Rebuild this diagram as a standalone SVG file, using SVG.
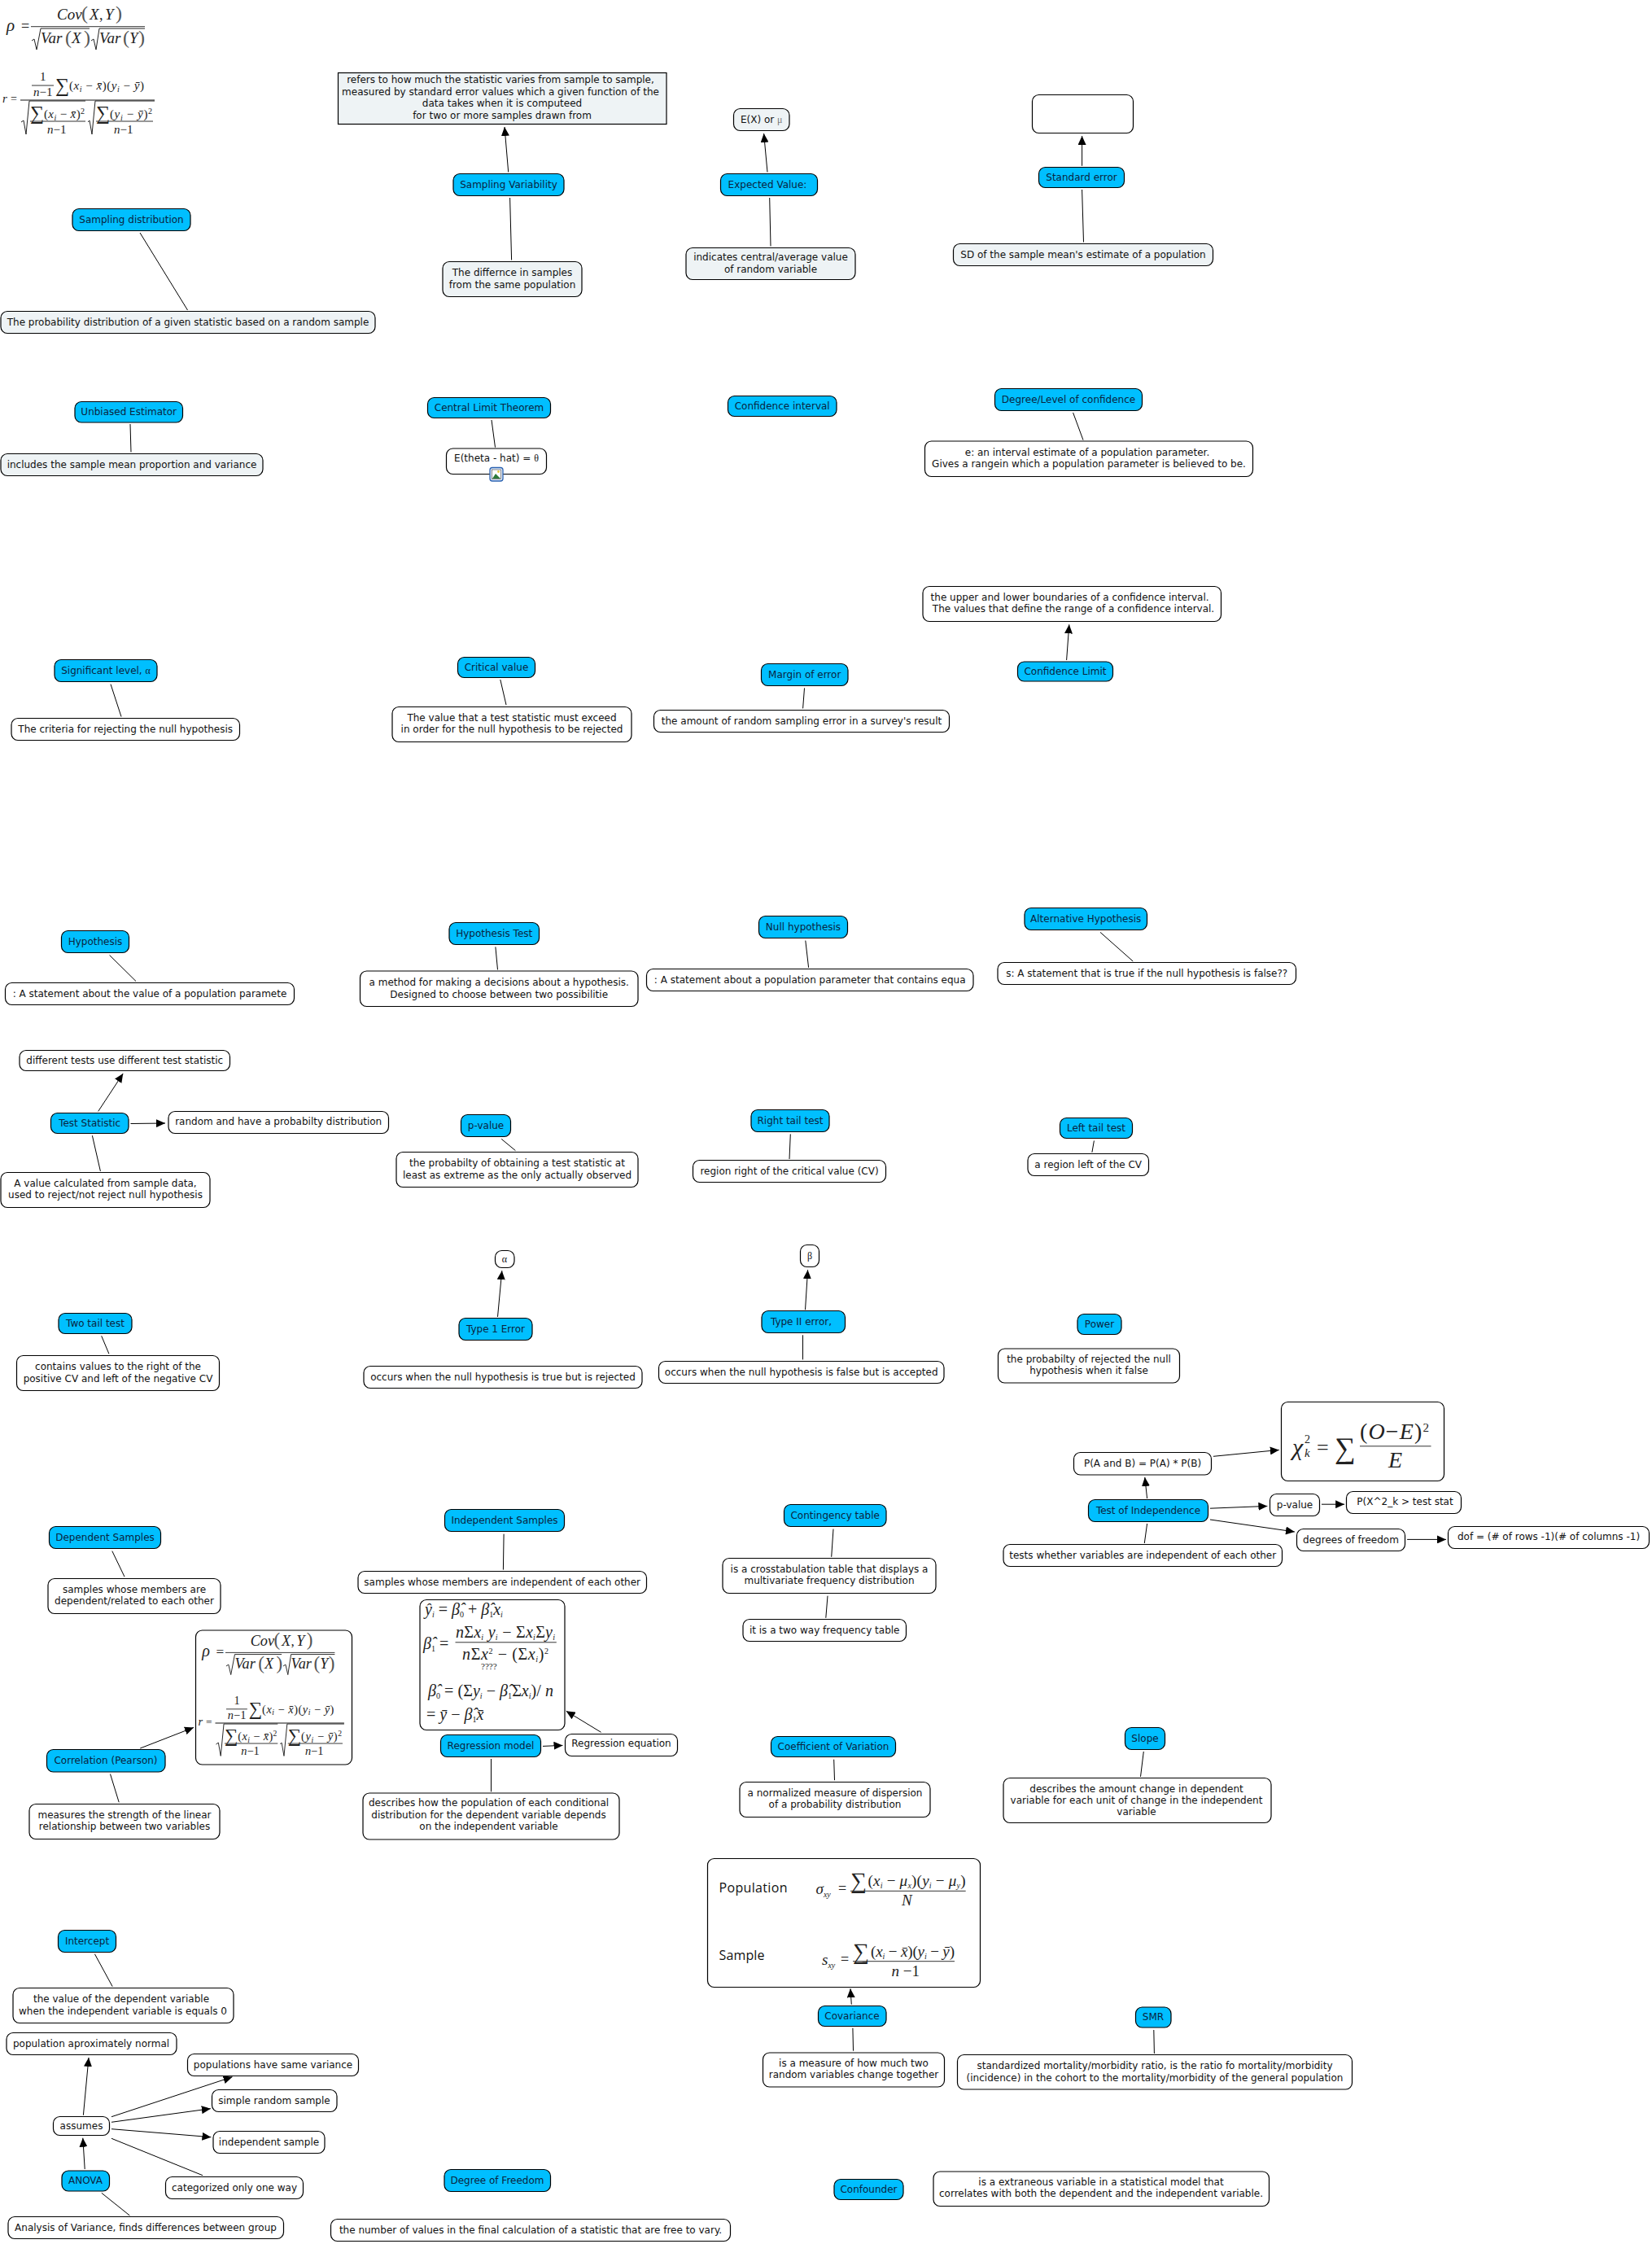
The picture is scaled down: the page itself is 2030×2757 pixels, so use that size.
<svg xmlns="http://www.w3.org/2000/svg" xmlns:xlink="http://www.w3.org/1999/xlink" width="2030" height="2757" viewBox="0 0 2030 2757">
<style>
text{font-family:"DejaVu Sans","Liberation Sans",sans-serif;font-size:12px;fill:#111;text-anchor:middle}
rect.c{fill:#00bfff;stroke:#000;stroke-width:1.2}
rect.w{fill:#fff;stroke:#000;stroke-width:1.2}
rect.l{fill:#eef3f5;stroke:#000;stroke-width:1.2}
.c+text,.c~text{fill:#0a2440}
#connectors line{stroke:#000;stroke-width:1}
#connectors line.a{marker-end:url(#ah)}
text.s,tspan.s{font-family:"Liberation Serif",serif}
.m text{font-family:"Liberation Serif",serif;font-style:italic;text-anchor:start;fill:#222;font-size:16px}
.m text.n,.m tspan.n{font-style:normal}
.m text.p{font-style:normal;fill:#555}
.m tspan.b{font-size:10px}
.m path{fill:none;stroke:#222;stroke-width:1}
.m line{stroke:#333;stroke-width:1}
</style>
<defs>
<marker id="ah" markerUnits="userSpaceOnUse" markerWidth="11" markerHeight="10" refX="11" refY="5" orient="auto"><path d="M0 0L11 5L0 10z" fill="#000"/></marker>
<g id="f-corr" class="m">
<text x="8" y="38" style="font-size:21px">ρ</text><text class="n" x="26" y="38" style="font-size:18px">=</text>
<text x="70" y="24" style="font-size:19px">Cov</text><text class="p" x="100" y="24" style="font-size:24px">(</text><text x="110" y="24" style="font-size:19px">X</text><text class="n" x="122" y="24" style="font-size:18px">,</text><text x="129" y="24" style="font-size:19px">Y</text><text class="p" x="142" y="24" style="font-size:24px">)</text>
<line x1="38" y1="32.7" x2="178" y2="32.7"/>
<path d="M39 50L42 48L45 61L50 35L110 35M112 50L115 48L118 61L122 35L178 35"/>
<text x="50" y="53" style="font-size:19px">Var</text><text class="p" x="80" y="54" style="font-size:24px">(</text><text x="88" y="53" style="font-size:19px">X</text><text class="p" x="103" y="54" style="font-size:24px">)</text>
<text x="122" y="53" style="font-size:19px">Var</text><text class="p" x="151" y="54" style="font-size:24px">(</text><text x="159" y="53" style="font-size:19px">Y</text><text class="p" x="170" y="54" style="font-size:24px">)</text>
<text x="3" y="126" style="font-size:15px">r</text><text class="n" x="13" y="126" style="font-size:14px">=</text>
<text class="n" x="49" y="99" style="font-size:15px">1</text><line x1="39" y1="105" x2="66" y2="105"/>
<text x="41" y="118" style="font-size:15px">n<tspan class="n">−1</tspan></text>
<text class="n" x="68" y="113" style="font-size:24px">∑</text>
<text x="85" y="110" style="font-size:15px" textLength="92"><tspan class="n">(</tspan>x<tspan class="b" dy="3">i</tspan><tspan class="n" dy="-3"> − </tspan>x̄<tspan class="n">)(</tspan>y<tspan class="b" dy="3">i</tspan><tspan class="n" dy="-3"> − </tspan>ȳ<tspan class="n">)</tspan></text>
<line x1="25" y1="123" x2="190" y2="123" style="stroke:#888;stroke-width:2"/>
<path d="M26 150L29 148L32 165L36 124L105 124M108 150L110 148L113 165L117 124L190 124"/>
<text class="n" x="37" y="147" style="font-size:24px">∑</text>
<text x="54" y="145" style="font-size:15px" textLength="50"><tspan class="n">(</tspan>x<tspan class="b" dy="3">i</tspan><tspan class="n" dy="-3"> − </tspan>x̄<tspan class="n">)</tspan><tspan class="n b" dy="-5">2</tspan></text>
<line x1="37" y1="149" x2="105" y2="149"/>
<text x="58" y="164" style="font-size:15px">n<tspan class="n">−1</tspan></text>
<text class="n" x="118" y="147" style="font-size:24px">∑</text>
<text x="135" y="145" style="font-size:15px" textLength="52"><tspan class="n">(</tspan>y<tspan class="b" dy="3">i</tspan><tspan class="n" dy="-3"> − </tspan>ȳ<tspan class="n">)</tspan><tspan class="n b" dy="-5">2</tspan></text>
<line x1="118" y1="149" x2="188" y2="149"/>
<text x="140" y="164" style="font-size:15px">n<tspan class="n">−1</tspan></text>
</g>
</defs>
<rect width="2030" height="2757" fill="#fff"/>
<g id="connectors">
<line class="a" x1="624.7" y1="211.5" x2="620" y2="156"/>
<line x1="626.6" y1="243" x2="628.6" y2="319.5"/>
<line class="a" x1="943" y1="211.5" x2="938.6" y2="164"/>
<line x1="945.7" y1="243" x2="947" y2="302.5"/>
<line class="a" x1="1329.6" y1="203.8" x2="1329.6" y2="167"/>
<line x1="1329.6" y1="233" x2="1331.5" y2="297.5"/>
<line x1="172" y1="286" x2="230.5" y2="381"/>
<line x1="160" y1="521" x2="161" y2="555.5"/>
<line x1="604" y1="516" x2="608.5" y2="549.6"/>
<line x1="1318.6" y1="507" x2="1331" y2="540.6"/>
<line x1="136" y1="840.6" x2="149" y2="880.5"/>
<line x1="614.8" y1="835" x2="622" y2="866"/>
<line x1="988.5" y1="845.4" x2="986.6" y2="870.4"/>
<line class="a" x1="1310.6" y1="811" x2="1313.8" y2="767.3"/>
<line x1="134.6" y1="1173.5" x2="167.1" y2="1205.6"/>
<line x1="608.9" y1="1163.4" x2="611.5" y2="1191.4"/>
<line x1="989.8" y1="1155.6" x2="993.6" y2="1188.8"/>
<line x1="1352" y1="1145.4" x2="1392.2" y2="1181"/>
<line class="a" x1="120.7" y1="1365.4" x2="151.2" y2="1319"/>
<line class="a" x1="160.5" y1="1380.5" x2="203" y2="1380"/>
<line x1="113.4" y1="1395.2" x2="123.4" y2="1438.9"/>
<line x1="616.2" y1="1399.4" x2="633.4" y2="1413.6"/>
<line x1="971.3" y1="1393.4" x2="970" y2="1424"/>
<line x1="1344.4" y1="1401.5" x2="1341.9" y2="1415.8"/>
<line x1="124.7" y1="1641.3" x2="133.9" y2="1663.3"/>
<line class="a" x1="611.5" y1="1617.9" x2="616.8" y2="1561.2"/>
<line class="a" x1="989.5" y1="1609.2" x2="992.6" y2="1560.2"/>
<line x1="986.5" y1="1640.3" x2="986.5" y2="1670.4"/>
<line x1="137.8" y1="1905.6" x2="153" y2="1937.2"/>
<line x1="619.1" y1="1884.7" x2="618.4" y2="1928.6"/>
<line x1="1024" y1="1878.6" x2="1021.7" y2="1912.8"/>
<line x1="1017" y1="1960.7" x2="1014.8" y2="1987.8"/>
<line class="a" x1="1491" y1="1789.3" x2="1571.8" y2="1781.4"/>
<line class="a" x1="1409.6" y1="1841" x2="1406.8" y2="1815"/>
<line class="a" x1="1487" y1="1853.2" x2="1557.4" y2="1850.4"/>
<line class="a" x1="1624" y1="1848.2" x2="1652.1" y2="1848.2"/>
<line class="a" x1="1487" y1="1867" x2="1590.9" y2="1882"/>
<line class="a" x1="1729.1" y1="1891.4" x2="1777" y2="1891.4"/>
<line x1="1409.6" y1="1872" x2="1406.3" y2="1896"/>
<line class="a" x1="172.2" y1="2148" x2="238" y2="2122.4"/>
<line x1="135.5" y1="2179.6" x2="146.2" y2="2214.3"/>
<line class="a" x1="667" y1="2145.4" x2="691.5" y2="2144.4"/>
<line class="a" x1="738.6" y1="2128.3" x2="695.7" y2="2102.2"/>
<line x1="603.5" y1="2161" x2="603.5" y2="2201.3"/>
<line x1="1024.7" y1="2161.7" x2="1025.5" y2="2187.2"/>
<line x1="1405.3" y1="2152" x2="1401.5" y2="2182.9"/>
<line class="a" x1="1046.3" y1="2462.7" x2="1045" y2="2443.3"/>
<line x1="1047.9" y1="2491.7" x2="1048.5" y2="2519.7"/>
<line x1="1417.8" y1="2494" x2="1418.4" y2="2523"/>
<line x1="116.4" y1="2400.7" x2="138.2" y2="2440.7"/>
<line class="a" x1="102.4" y1="2598.7" x2="109" y2="2528"/>
<line class="a" x1="137" y1="2600.7" x2="285.5" y2="2551.7"/>
<line class="a" x1="137" y1="2607.3" x2="258.8" y2="2590.7"/>
<line class="a" x1="137" y1="2615.7" x2="259.4" y2="2625.7"/>
<line x1="137" y1="2627.3" x2="249" y2="2672.7"/>
<line class="a" x1="104.2" y1="2665" x2="101.8" y2="2626.7"/>
<line x1="124.8" y1="2694.3" x2="159.4" y2="2722"/>
</g>
<g id="formula-corr"><use href="#f-corr" xlink:href="#f-corr"/></g>
<g id="n-refers"><rect class="l" x="415.5" y="89.5" width="403.5" height="63"/><text x="615" y="102">refers to how much the statistic varies from sample to sample,</text><text x="615" y="116.7">measured by standard error values which a given function of the</text><text x="617" y="131.3">data takes when it is computeed</text><text x="617" y="146">for two or more samples drawn from</text></g>
<g id="n-sampling-variability"><rect class="c" rx="8" x="557" y="213.5" width="136" height="27"/><text x="625" y="230.5">Sampling Variability</text></g>
<g id="n-differnce"><rect class="l" rx="8" x="544" y="321.5" width="171" height="43"/><text x="629.5" y="339.2">The differnce in samples</text><text x="629.5" y="353.8">from the same population</text></g>
<g id="n-expected-value"><rect class="c" rx="8" x="885.5" y="213.5" width="119" height="27"/><text x="943" y="230.5">Expected Value:</text></g>
<g id="n-ex"><rect class="l" rx="8" x="901.5" y="133.5" width="68.5" height="27"/><text x="935.7" y="150.5">E(X) or <tspan class="s" fill="#777">μ</tspan></text></g>
<g id="n-indicates"><rect class="l" rx="8" x="843" y="304.5" width="208" height="39"/><text x="947" y="320.2">indicates central/average value</text><text x="947" y="334.8">of random variable</text></g>
<g id="n-standard-error"><rect class="c" rx="8" x="1276.5" y="205.5" width="105" height="25"/><text x="1329" y="221.5">Standard error</text></g>
<g id="n-empty"><rect class="w" rx="8" x="1268.5" y="116.5" width="124" height="47"/></g>
<g id="n-sd"><rect class="l" rx="8" x="1171.5" y="299.5" width="319" height="27"/><text x="1331" y="316.5">SD of the sample mean's estimate of a population</text></g>
<g id="n-sampling-distribution"><rect class="c" rx="8" x="89" y="256.5" width="145" height="27"/><text x="161.5" y="273.5">Sampling distribution</text></g>
<g id="n-probability"><rect class="l" rx="8" x="1" y="382.5" width="460" height="27"/><text x="231" y="399.5">The probability distribution of a given statistic based on a random sample</text></g>
<g id="n-unbiased"><rect class="c" rx="8" x="92" y="493.5" width="132.5" height="25.5"/><text x="158.2" y="509.5">Unbiased Estimator</text></g>
<g id="n-includes"><rect class="l" rx="8" x="1" y="557.5" width="322" height="27"/><text x="162" y="574.5">includes the sample mean proportion and variance</text></g>
<g id="n-clt"><rect class="c" rx="8" x="525.5" y="488.5" width="151" height="25"/><text x="601" y="504.5">Central Limit Theorem</text></g>
<g id="n-theta"><rect class="w" rx="8" x="548.5" y="551" width="123" height="31.5"/><text x="610" y="567">E(theta - hat) = <tspan class="s">θ</tspan></text>
<rect x="602" y="574.5" width="16" height="16.5" rx="3" fill="#dfeafa" stroke="#2b62b0" stroke-width="1.3"/><rect x="604.5" y="577" width="11" height="11.5" fill="#fff" stroke="#444" stroke-width=".6"/><path d="M605 588L609 582L615 588z" fill="#2f7a3a"/><circle cx="612.5" cy="579.5" r="1.4" fill="#e8c840"/></g>
<g id="n-confidence-interval"><rect class="c" rx="8" x="894.5" y="486.5" width="133.5" height="25"/><text x="961.2" y="502.5">Confidence interval</text></g>
<g id="n-degree-confidence"><rect class="c" rx="8" x="1222.5" y="477.5" width="181" height="27"/><text x="1313" y="494.5">Degree/Level of confidence</text></g>
<g id="n-e"><rect class="w" rx="8" x="1136.5" y="542" width="403" height="43.5"/><text x="1336" y="559.5">e: an interval estimate of a population parameter.</text><text x="1338" y="574.2">Gives a rangein which a population parameter is believed to be.</text></g>
<g id="n-significant"><rect class="c" rx="8" x="67" y="810.5" width="126" height="27"/><text x="130" y="827.5">Significant level, <tspan class="s">α</tspan></text></g>
<g id="n-criteria"><rect class="w" rx="8" x="14" y="882.5" width="280.5" height="27"/><text x="154.2" y="899.5">The criteria for rejecting the null hypothesis</text></g>
<g id="n-critical"><rect class="c" rx="8" x="562.5" y="807.5" width="95" height="25"/><text x="610" y="823.5">Critical value</text></g>
<g id="n-value"><rect class="w" rx="8" x="482" y="868.5" width="294" height="43"/><text x="629" y="885.8">The value that a test statistic must exceed</text><text x="629" y="900.4">in order for the null hypothesis to be rejected</text></g>
<g id="n-margin"><rect class="c" rx="8" x="935.5" y="815.5" width="106.5" height="27"/><text x="988.7" y="832.5">Margin of error</text></g>
<g id="n-amount"><rect class="w" rx="8" x="803.5" y="872.5" width="363" height="27"/><text x="985" y="889.5">the amount of random sampling error in a survey's result</text></g>
<g id="n-upper"><rect class="w" rx="8" x="1134" y="720.5" width="366.5" height="43"/><text x="1314.6" y="737.5">the upper and lower boundaries of a confidence interval.</text><text x="1319" y="752.3">The values that define the range of a confidence interval.</text></g>
<g id="n-confidence-limit"><rect class="c" rx="8" x="1250.5" y="813" width="117" height="24"/><text x="1309" y="828.5">Confidence Limit</text></g>
<g id="n-hypothesis"><rect class="c" rx="8" x="75.5" y="1143.5" width="83" height="27"/><text x="117" y="1160.5">Hypothesis</text></g>
<g id="n-statement"><rect class="w" rx="8" x="6.5" y="1207.5" width="355" height="27"/><text x="184" y="1224.5">: A statement about the value of a population paramete</text></g>
<g id="n-hypothesis-test"><rect class="c" rx="8" x="552" y="1133.5" width="110.5" height="27"/><text x="607.2" y="1150.5">Hypothesis Test</text></g>
<g id="n-method"><rect class="w" rx="8" x="442.5" y="1193" width="341.5" height="43.5"/><text x="613.2" y="1211">a method for making a decisions about a hypothesis.</text><text x="613.2" y="1225.7">Designed to choose between two possibilitie</text></g>
<g id="n-null"><rect class="c" rx="8" x="932.5" y="1125.5" width="109" height="27"/><text x="987" y="1142.5">Null hypothesis</text></g>
<g id="n-null-text"><rect class="w" rx="8" x="794.5" y="1190.5" width="401.5" height="27"/><text x="995.2" y="1207.5">: A statement about a population parameter that contains equa</text></g>
<g id="n-alt"><rect class="c" rx="8" x="1259" y="1115.5" width="150.5" height="27"/><text x="1334.2" y="1132.5">Alternative Hypothesis</text></g>
<g id="n-alt-text"><rect class="w" rx="8" x="1226" y="1182.5" width="366.5" height="27"/><text x="1409.2" y="1199.5">s: A statement that is true if the null hypothesis is false??</text></g>
<g id="n-different"><rect class="w" rx="8" x="24" y="1290.5" width="258.5" height="25"/><text x="153.2" y="1306.5">different tests use different test statistic</text></g>
<g id="n-test-statistic"><rect class="c" rx="8" x="62.5" y="1367.5" width="95.5" height="25"/><text x="110.2" y="1383.5">Test Statistic</text></g>
<g id="n-random"><rect class="w" rx="8" x="207" y="1365.5" width="270.5" height="27"/><text x="342.2" y="1381.5">random and have a probabilty distribution</text></g>
<g id="n-avalue"><rect class="w" rx="8" x="1" y="1440.5" width="257" height="43"/><text x="129.5" y="1457.5">A value calculated from sample data,</text><text x="129.5" y="1472">used to reject/not reject null hypothesis</text></g>
<g id="n-pvalue"><rect class="c" rx="8" x="566.5" y="1369.5" width="61" height="27"/><text x="597" y="1386.5">p-value</text></g>
<g id="n-probabilty"><rect class="w" rx="8" x="487" y="1415.5" width="297" height="43"/><text x="635.5" y="1432.8">the probabilty of obtaining a test statistic at</text><text x="635.5" y="1447.5">least as extreme as the only actually observed</text></g>
<g id="n-right-tail"><rect class="c" rx="8" x="923" y="1363.5" width="96" height="27"/><text x="971" y="1380.5">Right tail test</text></g>
<g id="n-region"><rect class="w" rx="8" x="851.5" y="1425.5" width="237" height="27"/><text x="970" y="1442.5">region right of the critical value (CV)</text></g>
<g id="n-left-tail"><rect class="c" rx="8" x="1302.5" y="1373.5" width="89" height="25"/><text x="1347" y="1389.5">Left tail test</text></g>
<g id="n-left-region"><rect class="w" rx="8" x="1263" y="1417.5" width="148.5" height="27"/><text x="1337.2" y="1434.5">a region left of the CV</text></g>
<g id="n-two-tail"><rect class="c" rx="8" x="72" y="1613.5" width="90" height="25"/><text x="117" y="1629.5">Two tail test</text></g>
<g id="n-contains"><rect class="w" rx="8" x="20.5" y="1665.5" width="249" height="43"/><text x="145" y="1683.2">contains values to the right of the</text><text x="145" y="1697.8">positive CV and left of the negative CV</text></g>
<g id="n-alpha"><rect class="w" rx="8" x="608.5" y="1536.5" width="23.5" height="21"/><text class="s" x="620" y="1550.5">α</text></g>
<g id="n-type1"><rect class="c" rx="8" x="564" y="1619.5" width="90" height="27"/><text x="609" y="1636.5">Type 1 Error</text></g>
<g id="n-type1-text"><rect class="w" rx="8" x="447" y="1678.5" width="342" height="27"/><text x="618" y="1695.5">occurs when the null hypothesis is true but is rejected</text></g>
<g id="n-beta"><rect class="w" rx="8" x="983.5" y="1529.5" width="23" height="27"/><text class="s" x="995" y="1546.5">β</text></g>
<g id="n-type2"><rect class="c" rx="8" x="936" y="1610.5" width="102.5" height="27"/><text x="984.5" y="1627.5">Type II error,</text></g>
<g id="n-type2-text"><rect class="w" rx="8" x="809.5" y="1672.5" width="350.5" height="27"/><text x="984.7" y="1689.5">occurs when the null hypothesis is false but is accepted</text></g>
<g id="n-power"><rect class="c" rx="8" x="1324" y="1614.5" width="54" height="25"/><text x="1351" y="1630.5">Power</text></g>
<g id="n-power-text"><rect class="w" rx="8" x="1226.5" y="1657" width="223" height="42"/><text x="1338" y="1674">the probabilty of rejected the null</text><text x="1338" y="1688.4">hypothesis when it false</text></g>
<g id="n-dependent"><rect class="c" rx="8" x="60.5" y="1875.5" width="137" height="27"/><text x="129" y="1892.5">Dependent Samples</text></g>
<g id="n-dependent-text"><rect class="w" rx="8" x="59" y="1939.5" width="212" height="43"/><text x="165" y="1957">samples whose members are</text><text x="165" y="1971.3">dependent/related to each other</text></g>
<g id="n-independent"><rect class="c" rx="8" x="546.5" y="1854.5" width="147" height="27"/><text x="620" y="1871.5">Independent Samples</text></g>
<g id="n-independent-text"><rect class="w" rx="8" x="440" y="1930.5" width="354.5" height="27"/><text x="617.2" y="1947.5">samples whose members are independent of each other</text></g>
<g id="n-contingency"><rect class="c" rx="8" x="963.5" y="1848.5" width="125.5" height="27"/><text x="1026.2" y="1865.5">Contingency table</text></g>
<g id="n-crosstab"><rect class="w" rx="8" x="888" y="1914.5" width="262" height="43"/><text x="1019" y="1932">is a crosstabulation table that displays a</text><text x="1019" y="1946.3">multivariate frequency distribution</text></g>
<g id="n-two-way"><rect class="w" rx="8" x="913" y="1989.5" width="200.5" height="27"/><text x="1013.2" y="2006.5">it is a two way frequency table</text></g>
<g id="n-test-independence"><rect class="c" rx="8" x="1337.5" y="1842.5" width="147" height="27"/><text x="1411" y="1859.5">Test of Independence</text></g>
<g id="n-pab"><rect class="w" rx="8" x="1319.5" y="1784.5" width="169" height="27.5"/><text x="1404" y="1801.5">P(A and B) = P(A) * P(B)</text></g>
<g id="n-tests"><rect class="w" rx="8" x="1233" y="1897.5" width="342.5" height="27"/><text x="1404.2" y="1914.5">tests whether variables are independent of each other</text></g>
<g id="n-pvalue2"><rect class="w" rx="8" x="1560.5" y="1835.5" width="61" height="27"/><text x="1591" y="1852.5">p-value</text></g>
<g id="n-px"><rect class="w" rx="8" x="1654.5" y="1832.5" width="141" height="27"/><text x="1726.5" y="1848.5">P(X^2_k &gt; test stat</text></g>
<g id="n-degrees"><rect class="w" rx="8" x="1593.5" y="1878.5" width="133" height="27"/><text x="1660" y="1895.5">degrees of freedom</text></g>
<g id="n-dof"><rect class="w" rx="8" x="1779.5" y="1875.5" width="247" height="27"/><text x="1903" y="1892">dof = (# of rows -1)(# of columns -1)</text></g>
<g id="n-chi"><rect class="w" rx="8" x="1574.5" y="1722.5" width="200" height="97"/>
<g class="m"><text x="1588" y="1787.5" style="font-size:30px">χ</text><text class="n" x="1603" y="1773" style="font-size:14px">2</text><text x="1603" y="1790" style="font-size:15px">k</text><text class="n" x="1618" y="1787" style="font-size:26px">=</text><text class="n" x="1640" y="1791" style="font-size:36px">∑</text><text x="1671" y="1768" style="font-size:28px" textLength="85"><tspan class="n">(</tspan>O<tspan class="n">−</tspan>E<tspan class="n">)</tspan><tspan class="n" dy="-9" style="font-size:15px">2</tspan></text><line x1="1671" y1="1776.8" x2="1758.5" y2="1776.8"/><text x="1706" y="1803" style="font-size:28px">E</text></g></g>
<g id="n-correlation"><rect class="c" rx="8" x="57.5" y="2149.5" width="145.5" height="27.5"/><text x="130" y="2166.5">Correlation (Pearson)</text></g>
<g id="n-correlation-formula"><rect class="w" rx="8" x="240.5" y="2003" width="192" height="165"/><use href="#f-corr" xlink:href="#f-corr" transform="translate(240.5 1999) scale(.96)"/></g>
<g id="n-measures"><rect class="w" rx="8" x="36" y="2216.5" width="234" height="43"/><text x="153" y="2234">measures the strength of the linear</text><text x="153" y="2248.4">relationship  between two variables</text></g>
<g id="n-regression-formula"><rect class="w" rx="8" x="516" y="1965.5" width="178" height="160"/>
<g class="m">
<text x="522" y="1984.4" style="font-size:20px">ŷ<tspan class="b" dy="3">i</tspan><tspan class="n" dy="-3"> = </tspan>β̂<tspan class="n b" dy="3">0</tspan><tspan class="n" dy="-3"> + </tspan>β̂<tspan class="n b" dy="3">1</tspan><tspan dy="-3">x</tspan><tspan class="b" dy="3">i</tspan></text>
<text x="520" y="2025.5" style="font-size:20px">β̂<tspan class="n b" dy="3">1</tspan><tspan class="n" dy="-3"> =</tspan></text>
<text x="560" y="2012" style="font-size:20px" textLength="122">n<tspan class="n">Σ</tspan>x<tspan class="b" dy="3">i</tspan><tspan dy="-3"> y</tspan><tspan class="b" dy="3">i</tspan><tspan class="n" dy="-3"> − Σ</tspan>x<tspan class="b" dy="3">i</tspan><tspan class="n" dy="-3">Σ</tspan>y<tspan class="b" dy="3">i</tspan></text>
<line x1="559.5" y1="2017.8" x2="683.8" y2="2017.8"/>
<text x="568" y="2039" style="font-size:20px" textLength="106">n<tspan class="n">Σ</tspan>x<tspan class="n b" dy="-7">2</tspan><tspan class="n" dy="7"> − (Σ</tspan>x<tspan class="b" dy="3">i</tspan><tspan class="n" dy="-3">)</tspan><tspan class="n b" dy="-7">2</tspan></text>
<text class="n" x="591" y="2050.6" style="font-size:11px">????</text>
<text x="526" y="2084" style="font-size:20px" textLength="154">β̂<tspan class="n b" dy="3">0</tspan><tspan class="n" dy="-3"> = (Σ</tspan>y<tspan class="b" dy="3">i</tspan><tspan class="n" dy="-3"> − </tspan>β̂<tspan class="n b" dy="3">1</tspan><tspan class="n" dy="-3">Σ</tspan>x<tspan class="b" dy="3">i</tspan><tspan class="n" dy="-3">)/ </tspan>n</text>
<text x="524" y="2112.6" style="font-size:20px"><tspan class="n">= </tspan>ȳ<tspan class="n"> − </tspan>β̂<tspan class="n b" dy="3">1</tspan><tspan dy="-3">x̄</tspan></text>
</g></g>
<g id="n-regression"><rect class="c" rx="8" x="541.5" y="2131.5" width="123" height="27"/><text x="603" y="2148.5">Regression model</text></g>
<g id="n-regression-eq"><rect class="w" rx="8" x="694.5" y="2130.5" width="138" height="27"/><text x="763.5" y="2145.5">Regression equation</text></g>
<g id="n-describes"><rect class="w" rx="8" x="446" y="2203" width="315" height="57"/><text x="600.5" y="2218.8">describes how the population of each conditional</text><text x="600.5" y="2233.5">distribution for the dependent variable depends</text><text x="600.5" y="2248">on the independent variable</text></g>
<g id="n-coefficient"><rect class="c" rx="8" x="947.5" y="2133.5" width="153" height="25"/><text x="1024" y="2149.5">Coefficient of Variation</text></g>
<g id="n-normalized"><rect class="w" rx="8" x="909" y="2189.5" width="234" height="43"/><text x="1026" y="2206.6">a normalized measure of dispersion</text><text x="1026" y="2221.3">of a probability distribution</text></g>
<g id="n-slope"><rect class="c" rx="8" x="1382.5" y="2122.5" width="49" height="27"/><text x="1407" y="2139.5">Slope</text></g>
<g id="n-slope-text"><rect class="w" rx="8" x="1233" y="2184.5" width="329" height="55"/><text x="1396.5" y="2201.5">describes the amount change in dependent</text><text x="1396.5" y="2216">variable for each unit of change in the independent</text><text x="1396.5" y="2230.3">variable</text></g>
<g id="n-covariance-formula"><rect class="w" rx="8" x="869.5" y="2283.5" width="335" height="158"/>
<text x="883.5" y="2325" textLength="84" style="font-family:'Open Sans',sans-serif;font-size:16px;text-anchor:start">Population</text>
<text x="883.5" y="2408.3" textLength="56" style="font-family:'Open Sans',sans-serif;font-size:16px;text-anchor:start">Sample</text>
<g class="m">
<text x="1002.5" y="2326.7" style="font-size:19px">σ<tspan class="b" dy="4">xy</tspan></text><text class="n" x="1030" y="2326" style="font-size:18px">=</text>
<text class="n" x="1045" y="2320" style="font-size:28px">∑</text>
<text x="1066.5" y="2317" style="font-size:19px" textLength="120"><tspan class="n">(</tspan>x<tspan class="b" dy="3">i</tspan><tspan class="n" dy="-3"> − </tspan>μ<tspan class="b" dy="3">x</tspan><tspan class="n" dy="-3">)(</tspan>y<tspan class="b" dy="3">i</tspan><tspan class="n" dy="-3"> − </tspan>μ<tspan class="b" dy="3">y</tspan><tspan class="n" dy="-3">)</tspan></text>
<line x1="1045" y1="2323.3" x2="1186.7" y2="2323.3"/>
<text x="1108" y="2341" style="font-size:19px">N</text>
<text x="1010" y="2414" style="font-size:19px">s<tspan class="b" dy="4">xy</tspan></text><text class="n" x="1033" y="2413" style="font-size:18px">=</text>
<text class="n" x="1048" y="2407" style="font-size:28px">∑</text>
<text x="1070" y="2404" style="font-size:19px" textLength="103"><tspan class="n">(</tspan>x<tspan class="b" dy="3">i</tspan><tspan class="n" dy="-3"> − </tspan>x̄<tspan class="n">)(</tspan>y<tspan class="b" dy="3">i</tspan><tspan class="n" dy="-3"> − </tspan>ȳ<tspan class="n">)</tspan></text>
<line x1="1048" y1="2409.7" x2="1173" y2="2409.7"/>
<text x="1095.5" y="2428" style="font-size:19px">n<tspan class="n"> −1</tspan></text>
</g></g>
<g id="n-covariance"><rect class="c" rx="8" x="1005.5" y="2464.5" width="83.5" height="25"/><text x="1047" y="2480.5">Covariance</text></g>
<g id="n-covariance-text"><rect class="w" rx="8" x="937.5" y="2522" width="223" height="42"/><text x="1049" y="2539">is a measure of how much two</text><text x="1049" y="2553.4">random variables change together</text></g>
<g id="n-smr"><rect class="c" rx="8" x="1395.5" y="2466" width="43.5" height="25"/><text x="1417" y="2482">SMR</text></g>
<g id="n-smr-text"><rect class="w" rx="8" x="1176.5" y="2524.5" width="485" height="42.5"/><text x="1419" y="2542">standardized mortality/morbidity ratio, is the ratio fo mortality/morbidity</text><text x="1419" y="2556.6">(incidence) in the cohort to the mortality/morbidity of the general population</text></g>
<g id="n-confounder"><rect class="c" rx="8" x="1025" y="2677.5" width="85" height="25"/><text x="1067.5" y="2693.5">Confounder</text></g>
<g id="n-confounder-text"><rect class="w" rx="8" x="1147" y="2668" width="412.5" height="42.5"/><text x="1353" y="2685">is a extraneous variable in a statistical model that</text><text x="1353" y="2699.3">correlates with both the dependent and the independent variable.</text></g>
<g id="n-intercept"><rect class="c" rx="8" x="71.5" y="2371.5" width="71" height="27"/><text x="107" y="2388.5">Intercept</text></g>
<g id="n-intercept-text"><rect class="w" rx="8" x="16" y="2442.5" width="271" height="43"/><text x="149" y="2460">the value of the dependent variable</text><text x="151" y="2474.6">when the independent variable is equals 0</text></g>
<g id="n-pop-normal"><rect class="w" rx="8" x="8" y="2497.5" width="209" height="27"/><text x="112" y="2514.5">population aproximately normal</text></g>
<g id="n-same-variance"><rect class="w" rx="8" x="230.5" y="2523.5" width="210" height="27"/><text x="335.5" y="2540.5">populations have same variance</text></g>
<g id="n-simple"><rect class="w" rx="8" x="260.5" y="2567.5" width="153.5" height="27"/><text x="337" y="2584.5">simple random sample</text></g>
<g id="n-independent-sample"><rect class="w" rx="8" x="262" y="2618.5" width="137" height="27"/><text x="330.5" y="2635.5">independent sample</text></g>
<g id="n-assumes"><rect class="w" rx="8" x="65.5" y="2600.5" width="69" height="23"/><text x="100" y="2615.5">assumes</text></g>
<g id="n-categorized"><rect class="w" rx="8" x="203.5" y="2674.5" width="169" height="27"/><text x="288" y="2691.5">categorized only one way</text></g>
<g id="n-anova"><rect class="c" rx="8" x="76" y="2667" width="58.5" height="25"/><text x="105" y="2683">ANOVA</text></g>
<g id="n-analysis"><rect class="w" rx="8" x="10" y="2723.5" width="338.5" height="27"/><text x="179" y="2740.5">Analysis of Variance, finds differences between group</text></g>
<g id="n-dof-concept"><rect class="c" rx="8" x="546" y="2665.5" width="130.5" height="27"/><text x="611" y="2682.5">Degree of Freedom</text></g>
<g id="n-number"><rect class="w" rx="8" x="406.5" y="2726.5" width="491" height="27"/><text x="652" y="2743.5">the number of values in the final calculation of a statistic that are free to vary.</text></g>
</svg>
